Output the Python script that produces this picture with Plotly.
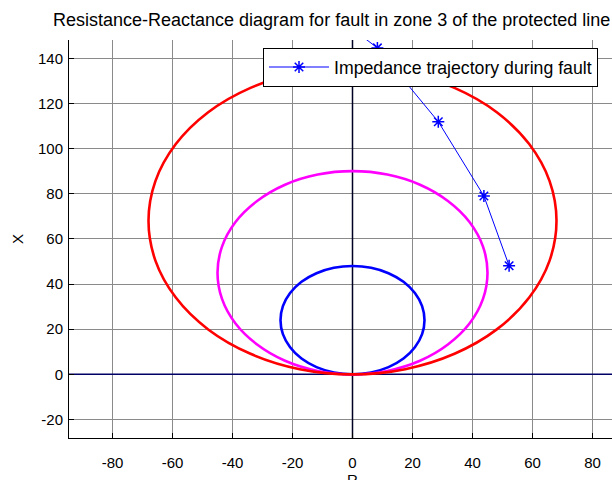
import plotly.graph_objects as go

# ---- data ----
# Zone 1 mho circle (blue)
z1_r = [0, 6.2, 12, 17, 20.8, 23.2, 24, 23.2, 20.8, 17, 12, 6.2, 0,
        -6.2, -12, -17, -20.8, -23.2, -24, -23.2, -20.8, -17, -12, -6.2, 0]
z1_x = [0, 0.8, 3.2, 7, 12, 17.8, 24, 30.2, 36, 41, 44.8, 47.2, 48,
        47.2, 44.8, 41, 36, 30.2, 24, 17.8, 12, 7, 3.2, 0.8, 0]
# Zone 2 mho circle (magenta)
z2_r = [0, 11.6, 22.5, 31.8, 39, 43.5, 45, 43.5, 39, 31.8, 22.5, 11.6, 0,
        -11.6, -22.5, -31.8, -39, -43.5, -45, -43.5, -39, -31.8, -22.5, -11.6, 0]
z2_x = [0, 1.5, 6, 13.2, 22.5, 33.4, 45, 56.6, 67.5, 76.8, 84, 88.5, 90,
        88.5, 84, 76.8, 67.5, 56.6, 45, 33.4, 22.5, 13.2, 6, 1.5, 0]
# Zone 3 mho circle (red)
z3_r = [0, 17.6, 34, 48.1, 58.9, 65.7, 68, 65.7, 58.9, 48.1, 34, 17.6, 0,
        -17.6, -34, -48.1, -58.9, -65.7, -68, -65.7, -58.9, -48.1, -34, -17.6, 0]
z3_x = [0, 2.3, 9.1, 19.9, 34, 50.4, 68, 85.6, 102, 116.1, 126.9, 133.7, 136,
        133.7, 126.9, 116.1, 102, 85.6, 68, 50.4, 34, 19.9, 9.1, 2.3, 0]
# Impedance trajectory during fault
traj_r = [-7, 8.3, 28.6, 43.8, 52.2]
traj_x = [160, 144.6, 111.9, 79, 48.1]

x_ticks = [-80, -60, -40, -20, 0, 20, 40, 60, 80]
x_tick_text = ["-80", "-60", "-40", "-20", "0", "20", "40", "60", "80"]
y_ticks = [-20, 0, 20, 40, 60, 80, 100, 120, 140]
y_tick_text = ["-20", "0", "20", "40", "60", "80", "100", "120", "140"]

FONT = "Liberation Sans, Arial, sans-serif"

fig = go.Figure()

# axis lines through origin
fig.add_trace(go.Scatter(x=[-100, 100], y=[0, 0], mode="lines",
                         line=dict(color="#000066", width=1.5),
                         showlegend=False, hoverinfo="skip"))
fig.add_trace(go.Scatter(x=[0, 0], y=[-40, 170], mode="lines",
                         line=dict(color="#000022", width=1.5),
                         showlegend=False, hoverinfo="skip"))

fig.add_trace(go.Scatter(x=z1_r, y=z1_x, mode="lines",
                         line=dict(color="#0000ff", width=2.6, shape="spline"),
                         showlegend=False))
fig.add_trace(go.Scatter(x=z2_r, y=z2_x, mode="lines",
                         line=dict(color="#ff00ff", width=2.6, shape="spline"),
                         showlegend=False))
fig.add_trace(go.Scatter(x=z3_r, y=z3_x, mode="lines",
                         line=dict(color="#ff0000", width=2.6, shape="spline"),
                         showlegend=False))
fig.add_trace(go.Scatter(x=traj_r, y=traj_x, mode="lines+markers",
                         name="Impedance trajectory during fault",
                         line=dict(color="#0000ff", width=1),
                         marker=dict(symbol="asterisk-open", size=10,
                                     color="#0000ff",
                                     line=dict(color="#0000ff", width=1.5))))

fig.update_xaxes(range=[-94.5, 86.5], tickmode="array", tickvals=x_ticks,
                 ticktext=x_tick_text, automargin=False,
                 ticks="inside", ticklen=5, tickcolor="black",
                 showgrid=True, gridcolor="#8a8a8a", gridwidth=1,
                 zeroline=False, showline=True, linecolor="black", linewidth=1,
                 mirror=False, ticklabelstandoff=11,
                 tickfont=dict(family=FONT, size=15, color="black"))
fig.update_yaxes(range=[-28.2, 148.1], tickmode="array", tickvals=y_ticks,
                 ticktext=y_tick_text, automargin=False,
                 ticks="inside", ticklen=5, tickcolor="black",
                 showgrid=True, gridcolor="#8a8a8a", gridwidth=1,
                 zeroline=False, showline=True, linecolor="black", linewidth=1,
                 mirror=False, ticklabelstandoff=2,
                 tickfont=dict(family=FONT, size=15, color="black"))

fig.update_layout(
    width=612, height=480,
    margin=dict(l=69, r=0, t=40, b=42, autoexpand=False),
    plot_bgcolor="white", paper_bgcolor="white",
    font=dict(family=FONT, size=15, color="black"),
    legend=dict(x=(598 - 69) / 543, y=(438 - 48) / 398,
                xanchor="right", yanchor="top",
                bgcolor="white", bordercolor="black", borderwidth=1,
                font=dict(family=FONT, size=17.7, color="black"),
                itemwidth=60, tracegroupgap=0),
    annotations=[
        dict(text="Resistance-Reactance diagram for fault in zone 3 of the protected line",
             xref="paper", yref="paper", x=(331 - 69) / 543, y=(438 - 20) / 398,
             yanchor="middle", xanchor="center", showarrow=False,
             font=dict(family=FONT, size=18, color="black")),
        dict(text="R", xref="paper", yref="paper",
             x=(352.5 - 69) / 543, y=-(479 - 438) / 398,
             xanchor="center", yanchor="middle", showarrow=False,
             font=dict(family=FONT, size=15, color="black")),
        dict(text="X", xref="paper", yref="paper",
             x=(17 - 69) / 543, y=(438 - 239) / 398,
             xanchor="center", yanchor="middle", showarrow=False, textangle=-90,
             font=dict(family=FONT, size=15, color="black")),
    ],
)

fig.write_html("out.html", config={"displayModeBar": False},
               post_script="document.body.style.margin='0';document.body.style.overflow='hidden';")
